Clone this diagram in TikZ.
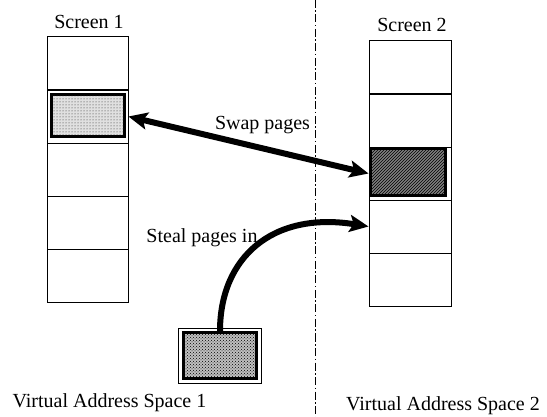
\documentclass[tikz,border=0pt]{standalone}
\usepackage{fontspec}
\setmainfont{Liberation Serif}
\usetikzlibrary{arrows.meta,patterns}
\begin{document}
\begin{tikzpicture}[x=1pt,y=-1pt,
  lbl/.style={inner sep=0pt,font=\fontsize{20}{24}\selectfont},
  cellL/.style={draw,line width=0.9pt,minimum width=81pt,minimum height=53pt,inner sep=0pt},
  cellR/.style={draw,line width=0.9pt,minimum width=82pt,minimum height=53pt,inner sep=0pt},
  pagebox/.style={draw,line width=3pt,inner sep=0pt},
  bigarrow/.style={line width=6pt,-{Stealth[length=19pt,width=17pt,inset=4pt]}},
  bothends/.style={{Stealth[length=19pt,width=17pt,inset=4pt]}-{Stealth[length=19pt,width=17pt,inset=4pt]}},
  divider/.style={line width=1pt,dash pattern=on 8pt off 2.5pt on 1.5pt off 2.5pt}
]
\useasboundingbox (0,0) rectangle (547,417);
% left column
\node[cellL] (l1) at (87.5,63) {};
\node[cellL] (l2) at (87.5,116.5) {};
\node[cellL] (l3) at (87.5,169.5) {};
\node[cellL] (l4) at (87.5,222.5) {};
\node[cellL] (l5) at (87.5,275.5) {};
% right column
\node[cellR] (r1) at (410,67) {};
\node[cellR] (r2) at (410,120.5) {};
\node[cellR] (r3) at (410,173.5) {};
\node[cellR] (r4) at (410,226.5) {};
\node[cellR] (r5) at (410,279.5) {};
% highlighted pages
\node[pagebox,minimum width=73pt,minimum height=42pt,fill=black!12,
      postaction={pattern=dots,pattern color=black!85}] (p1) at (88,115.5) {};
\node[pagebox,minimum width=75pt,minimum height=47pt,fill=black!50,
      postaction={pattern=north east lines,pattern color=black}] (p2) at (408,172) {};
% stolen page
\node[draw,line width=0.9pt,minimum width=83pt,minimum height=55pt,inner sep=0pt] (srcframe) at (219.5,355.5) {};
\node[pagebox,minimum width=73pt,minimum height=46pt,fill=black!25,
      postaction={pattern=crosshatch dots,pattern color=black}] (src) at (220,355.5) {};
% divider
\coordinate (dtop) at (315,0);
\coordinate (dbot) at (315,417);
\draw[divider] (dtop) -- (dbot);
% labels
\node[lbl] (s1) at (89,21.5) {Screen 1};
\node[lbl] (s2) at (412,25) {Screen 2};
\node[lbl] (swap) at (262.5,125.5) {Swap pages};
\node[lbl] (steal) at (202,237.5) {Steal pages in};
\node[lbl] (v1) at (109.5,403) {Virtual Address Space 1};
\node[lbl] (v2) at (443,406) {Virtual Address Space 2};
% arrows
\draw[bigarrow,bothends] (l2.east) -- (r3.west);
\draw[bigarrow] (src.north) .. controls (220,258) and (272,211) .. (r4.west);
\end{tikzpicture}
\end{document}
